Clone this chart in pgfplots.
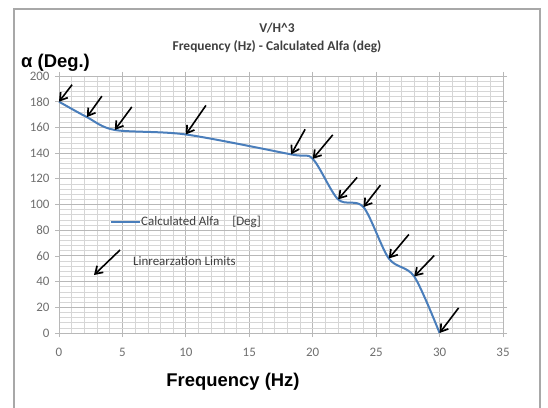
\documentclass[border=0pt]{standalone}
\usepackage{fontspec}
\setmainfont{Carlito}
\newfontfamily\arialf{Liberation Sans}
\usepackage{pgfplots}
\pgfplotsset{compat=1.18}
\usetikzlibrary{arrows.meta}
\definecolor{excelblue}{HTML}{4A7EBB}
\definecolor{framegray}{HTML}{A8A8A8}
\definecolor{majgrid}{HTML}{B8B8B8}
\definecolor{mingrid}{HTML}{D6D6D6}
\definecolor{ticklab}{HTML}{707070}
\definecolor{txt}{HTML}{404040}
\begin{document}
\begin{tikzpicture}[x=1bp,y=1bp]
\useasboundingbox (0,0) rectangle (548,407);
\fill[white] (0,0) rectangle (548,407);
\draw[framegray, line width=1.3bp] (14,-10) -- (14,398) -- (540,398) -- (540,-10);
\begin{axis}[
  at={(59bp,74bp)}, anchor=south west,
  width=444bp, height=257bp, scale only axis,
  xmin=0,xmax=35,ymin=0,ymax=200,
  xtick={0,5,...,35}, ytick={0,20,...,200},
  minor x tick num=4, minor y tick num=4,
  grid=both,
  major grid style={majgrid, line width=0.9bp},
  minor grid style={mingrid, line width=0.6bp},
  axis line style={majgrid, line width=0.9bp},
  tick align=outside, major tick length=4bp, minor tick length=0pt,
  tick style={majgrid, line width=0.8bp},
  ticklabel style={font=\fontsize{13}{15}\selectfont, text=ticklab},
  /pgf/number format/assume math mode=true,
  xticklabel style={yshift=-8bp},
  yticklabel style={xshift=-2bp},
  clip=false,
]
\addplot[excelblue, line width=2bp, smooth, tension=0.5, mark=none] coordinates {
(0,180) (2.2,168) (4.4,158) (10,154.5) (18.3,139) (20,135.5) (22,104) (24,98) (26,58) (28,44) (30,0)
};
\addplot[black, line width=1.6bp, mark=none, -{Straight Barb[length=7bp,width=9bp,line width=1.7bp]}, quiver={u=\thisrow{u}, v=\thisrow{v}}] table {
x y u v
1.03 193.2 -1.03 -13.2
3.38 184.3 -1.18 -16.3
5.74 175.9 -1.34 -17.9
11.58 177.1 -1.58 -22.6
19.4 158.5 -1.1 -19.5
21.58 154.2 -1.58 -18.7
23.5 121.1 -1.5 -17.1
25.34 115.1 -1.34 -17.1
27.58 76.7 -1.58 -18.7
29.58 60.3 -1.58 -16.3
31.5 19.5 -1.5 -19.5
};
\end{axis}
\node[font=\bfseries\fontsize{13.5}{16}\selectfont, text=txt] at (277,379) {V/H\textasciicircum 3};
\node[font=\bfseries\fontsize{13.5}{16}\selectfont, text=txt] at (277,360) {Frequency (Hz) - Calculated Alfa (deg)};
\node[anchor=west, inner sep=0pt, font=\arialf\bfseries\fontsize{18.5}{20}\selectfont] at (21,344) {α (Deg.)};
\node[font=\arialf\bfseries\fontsize{18.5}{20}\selectfont] at (233,25) {Frequency (Hz)};
\draw[excelblue, line width=2bp] (111,185) -- (140,185);
\node[anchor=west, inner sep=1bp, font=\fontsize{13}{15}\selectfont, text=txt] at (140,185) {Calculated Alfa\quad [Deg]};
\draw[black, line width=1.6bp, -{Straight Barb[length=7bp,width=9bp,line width=1.7bp]}] (120,157) -- (94,132);
\node[anchor=west, inner sep=0pt, font=\fontsize{13}{15}\selectfont, text=txt] at (133,146) {Linrearzation Limits};
\end{tikzpicture}
\end{document}
